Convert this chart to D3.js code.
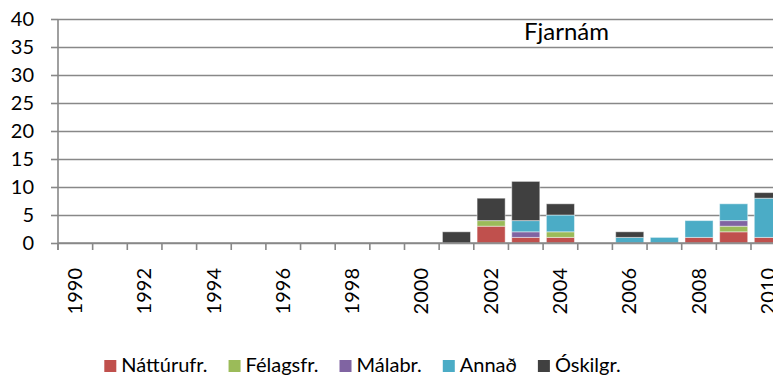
<!DOCTYPE html>
<html>
<head>
<meta charset="utf-8">
<script src="https://cdn.jsdelivr.net/npm/d3@7"></script>
<style>
  html, body { margin: 0; padding: 0; background: #fff; }
  svg { display: block; font-family: Lato, "Open Sans", sans-serif; }
</style>
</head>
<body>
<svg id="chart" width="773" height="378"></svg>
<script>
// Fjarnám – number of distance-learning graduates per year, by field
const years = d3.range(1990, 2011).map(String);
const seriesNames = ["Náttúrufr.", "Félagsfr.", "Málabr.", "Annað", "Óskilgr."];
const seriesColors = ["#C0504D", "#9BBB59", "#8064A2", "#4BACC6", "#404040"];

//                     1990 ...                                   2000 2001 2002 2003 2004 2005 2006 2007 2008 2009 2010
const natturufr = [0,0,0,0,0,0,0,0,0,0,0, 0, 3, 1, 1, 0, 0, 0, 1, 2, 1];
const felagsfr  = [0,0,0,0,0,0,0,0,0,0,0, 0, 1, 0, 1, 0, 0, 0, 0, 1, 0];
const malabr    = [0,0,0,0,0,0,0,0,0,0,0, 0, 0, 1, 0, 0, 0, 0, 0, 1, 0];
const annad     = [0,0,0,0,0,0,0,0,0,0,0, 0, 0, 2, 3, 0, 1, 1, 3, 3, 7];
const oskilgr   = [0,0,0,0,0,0,0,0,0,0,0, 2, 4, 7, 2, 0, 1, 0, 0, 0, 1];

const yTicks = [0, 5, 10, 15, 20, 25, 30, 35, 40];
const xTickLabels = ["1990","1992","1994","1996","1998","2000","2002","2004","2006","2008","2010"];
const chartTitle = "Fjarnám";

const seriesValues = [natturufr, felagsfr, malabr, annad, oskilgr];
const rows = years.map((y, i) => {
  const r = { year: y };
  seriesNames.forEach((s, k) => r[s] = seriesValues[k][i]);
  return r;
});

const svg = d3.select("#chart");
const plotLeft = 58, plotTop = 19, plotBottom = 243;
const step = 34.65;

const x = d3.scaleBand()
  .domain(years)
  .range([plotLeft, plotLeft + step * years.length])
  .paddingInner(0.19)
  .paddingOuter(0.095);

const y = d3.scaleLinear().domain([0, 40]).range([plotBottom, plotTop]);

const gridColor = "#888888";

// horizontal gridlines with short ticks left of the axis
const yAxis = d3.axisLeft(y).tickValues(yTicks).tickSize(7).tickPadding(17);
const gy = svg.append("g").attr("transform", `translate(${plotLeft},0)`).call(yAxis);
gy.select(".domain").remove();
gy.selectAll(".tick line").attr("stroke", gridColor).attr("stroke-width", 1.6);
gy.selectAll(".tick").append("line")
  .attr("x1", 0).attr("x2", 773 - plotLeft)
  .attr("stroke", gridColor).attr("stroke-width", 1.6);
gy.selectAll(".tick text")
  .attr("font-size", 20).attr("fill", "#000")
  .attr("font-family", "Lato, sans-serif");

// vertical axis line
svg.append("line")
  .attr("x1", plotLeft).attr("x2", plotLeft)
  .attr("y1", plotTop).attr("y2", plotBottom + 7)
  .attr("stroke", gridColor).attr("stroke-width", 1.6);

// stacked bars
const stack = d3.stack().keys(seriesNames)(rows);
const color = d3.scaleOrdinal().domain(seriesNames).range(seriesColors);

svg.append("g").selectAll("g")
  .data(stack)
  .join("g")
  .attr("fill", d => color(d.key))
  .selectAll("rect")
  .data(d => d.filter(p => p[1] > p[0]))
  .join("rect")
  .attr("x", d => x(d.data.year))
  .attr("width", x.bandwidth())
  .attr("y", d => y(d[1]))
  .attr("height", d => y(d[0]) - y(d[1]))
  .attr("stroke", "#ffffff")
  .attr("stroke-opacity", 0.45)
  .attr("stroke-width", 1);

// category axis: ticks at band edges, labels rotated
const xAxisG = svg.append("g");
xAxisG.append("line")
  .attr("x1", plotLeft).attr("x2", 773)
  .attr("y1", plotBottom).attr("y2", plotBottom)
  .attr("stroke", gridColor).attr("stroke-width", 1.6);
xAxisG.selectAll("line.tk")
  .data(years)
  .join("line")
  .attr("class", "tk")
  .attr("x1", d => x(d) - x.step() * x.paddingOuter())
  .attr("x2", d => x(d) - x.step() * x.paddingOuter())
  .attr("y1", plotBottom).attr("y2", plotBottom + 7)
  .attr("stroke", gridColor).attr("stroke-width", 1.6);
xAxisG.selectAll("text")
  .data(xTickLabels)
  .join("text")
  .attr("transform", d => `translate(${x(d) + x.bandwidth() / 2},268) rotate(-90)`)
  .attr("text-anchor", "end")
  .attr("dy", "0.33em")
  .attr("font-size", 20)
  .attr("fill", "#000")
  .text(d => d);

// title inside the plot area
svg.append("text")
  .attr("x", 566.5).attr("y", 40)
  .attr("text-anchor", "middle")
  .attr("font-size", 24)
  .attr("fill", "#000")
  .text(chartTitle);

// legend
const legend = svg.append("g");
let lx = 0;
seriesNames.forEach((name, i) => {
  const g = legend.append("g");
  g.append("rect").attr("x", 0).attr("y", -12).attr("width", 12).attr("height", 12)
    .attr("fill", seriesColors[i]);
  const t = g.append("text").attr("x", 17).attr("y", 0)
    .attr("font-size", 20).attr("fill", "#000").text(name);
  const w = 17 + t.node().getComputedTextLength();
  g.attr("transform", `translate(${lx},0)`);
  lx += w + 21;
});
const legendWidth = lx - 21;
legend.attr("transform", `translate(${362.5 - legendWidth / 2},372)`);
</script>
</body>
</html>
